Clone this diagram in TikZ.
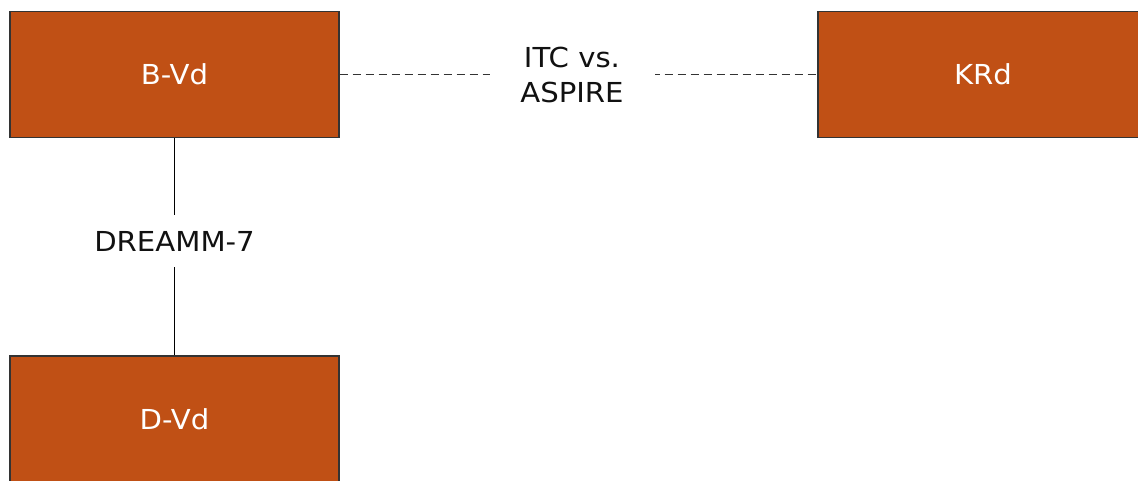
\documentclass[tikz,border=0pt]{standalone}
\usepackage{fontspec}
\setmainfont{DejaVu Sans}[FakeStretch=1.06]
\definecolor{boxfill}{HTML}{C05015}
\definecolor{edgegray}{HTML}{333333}
\definecolor{txt}{HTML}{111111}
\begin{document}
\begin{tikzpicture}[x=1pt,y=-1pt,
  box/.style={draw=edgegray,line width=1.2pt,fill=boxfill,text=white,
    font=\fontsize{27.5}{32}\selectfont,inner sep=0pt},
  lbl/.style={fill=white,text=txt,font=\fontsize{27.5}{35}\selectfont,align=center,inner sep=0pt},
  link/.style={draw=black,line width=1pt},
  dlink/.style={draw=edgegray,line width=1pt,dash pattern=on 8pt off 5pt}]
\useasboundingbox[fill=white] (0,0) rectangle (1138,480);
\node[box,minimum width=329pt,minimum height=126pt] (bvd) at (174.5,74.5) {B-Vd};
\node[box,minimum width=330pt,minimum height=126pt] (krd) at (983,74.5) {KRd};
\node[box,minimum width=329pt,minimum height=126pt] (dvd) at (174.5,419) {D-Vd};
\draw[dlink] (bvd.east) -- (krd.west);
\draw[link] (bvd.south) -- (dvd.north);
\node[lbl,minimum width=165pt,minimum height=70pt] (l1) at (572,74.5) {ITC vs.\\ASPIRE};
\node[lbl,minimum width=175pt,minimum height=52pt] (l2) at (174.5,241) {DREAMM-7};
\end{tikzpicture}
\end{document}
